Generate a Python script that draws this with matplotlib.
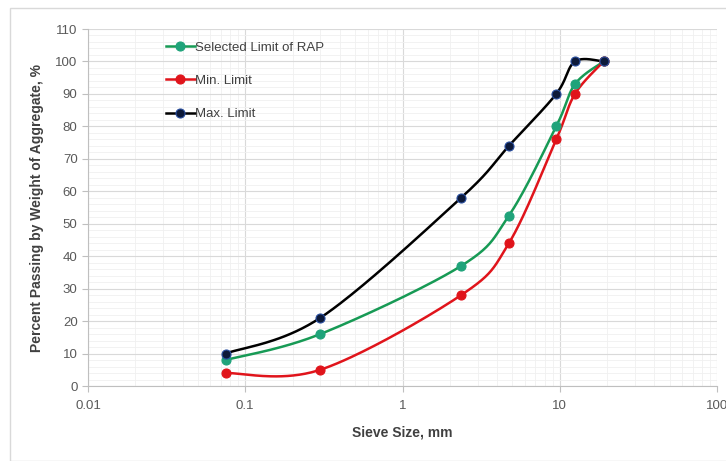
import numpy as np
import matplotlib
matplotlib.use("Agg")
import matplotlib.pyplot as plt
from matplotlib.patches import Rectangle
from matplotlib.lines import Line2D

sieve_mm = [0.075, 0.3, 2.36, 4.75, 9.5, 12.5, 19.0]
selected = [8, 16, 37, 52.5, 80, 93, 100]
min_limit = [4, 5, 28, 44, 76, 90, 100]
max_limit = [10, 21, 58, 74, 90, 100, 100]
labels = ["Selected Limit of RAP", "Min. Limit", "Max. Limit"]
x_ticks = [0.01, 0.1, 1, 10, 100]
x_tick_labels = ["0.01", "0.1", "1", "10", "100"]
y_ticks = list(range(0, 111, 10))

plt.rcParams['font.family'] = ['Liberation Sans Narrow', 'Liberation Sans', 'DejaVu Sans']


def smooth(xs, ys, n=40):
    """Excel-like smoothed line: Catmull-Rom in (log10 x, y)."""
    u = np.log10(np.asarray(xs, float))
    v = np.asarray(ys, float)
    P = np.column_stack([u, v])
    P = np.vstack([P[0], P, P[-1]])
    out = []
    t = np.linspace(0, 1, n)
    for i in range(1, len(P) - 2):
        p0, p1, p2, p3 = P[i - 1], P[i], P[i + 1], P[i + 2]
        c1 = p1 + (p2 - p0) / 6.0
        c2 = p2 - (p3 - p1) / 6.0
        tt = t[:, None]
        seg = ((1 - tt) ** 3) * p1 + 3 * ((1 - tt) ** 2) * tt * c1 + 3 * (1 - tt) * tt ** 2 * c2 + tt ** 3 * p2
        out.append(seg if i == 1 else seg[1:])
    S = np.vstack(out)
    return 10 ** S[:, 0], S[:, 1]


fig = plt.figure(figsize=(7.26, 4.61), dpi=100)
fig.add_artist(Rectangle((10 / 726, 0.0), 1.0, 1 - 8 / 461, transform=fig.transFigure,
                         fill=False, edgecolor="#d9d9d9", linewidth=1.0))
ax = fig.add_axes([88 / 726, 1 - 386 / 461, (717 - 88) / 726, (386 - 29) / 461])

series = [
    (selected, "#179a55", "#1fa37a", "#1fa37a"),
    (min_limit, "#e0141b", "#e0141b", "#e0141b"),
    (max_limit, "#000000", "#0d1a3a", "#2a4fa0"),
]
handles = []
for (vals, lc, mfc, mec), lab in zip(series, labels):
    sx, sy = smooth(sieve_mm, vals)
    ax.plot(sx, sy, color=lc, linewidth=1.8, zorder=3)
    ax.plot(sieve_mm, vals, linestyle="none", marker="o", markersize=6.5,
            markerfacecolor=mfc, markeredgecolor=mec, markeredgewidth=0.8, zorder=4)
    handles.append(Line2D([], [], color=lc, linewidth=1.8, marker="o", markersize=6.5,
                          markerfacecolor=mfc, markeredgecolor=mec, markeredgewidth=0.8))

ax.set_xscale("log")
ax.set_xlim(0.01, 100)
ax.set_ylim(0, 110)
ax.set_xticks(x_ticks)
ax.set_xticklabels(x_tick_labels)
ax.set_yticks(y_ticks)
ax.set_yticks(np.arange(0, 111, 2), minor=True)
ax.xaxis.set_minor_locator(matplotlib.ticker.LogLocator(base=10, subs=np.arange(2, 10)))
ax.xaxis.set_minor_formatter(matplotlib.ticker.NullFormatter())

ax.grid(True, which="major", color="#d9d9d9", linewidth=0.8)
ax.grid(True, which="minor", color="#f0f0f0", linewidth=0.6)
ax.set_axisbelow(True)

for s in ["top", "right"]:
    ax.spines[s].set_visible(False)
for s in ["left", "bottom"]:
    ax.spines[s].set_color("#bfbfbf")
    ax.spines[s].set_linewidth(0.8)

ax.tick_params(axis="both", which="major", labelsize=9.5, labelcolor="#595959",
               color="#bfbfbf", length=4, width=0.8)
ax.tick_params(axis="both", which="minor", length=0)
ax.tick_params(axis="x", pad=6)

ax.set_xlabel("Sieve Size, mm", fontsize=10, fontweight="bold", color="#404040", labelpad=10)
ax.set_ylabel("Percent Passing by Weight of Aggregate, %", fontsize=10, fontweight="bold",
              color="#404040", labelpad=8)

leg = ax.legend(handles, labels, loc="upper left", bbox_to_anchor=(0.115, 0.98),
                frameon=False, fontsize=9.5, handlelength=2.2, handletextpad=0.0,
                labelspacing=1.6, borderaxespad=0)
for t in leg.get_texts():
    t.set_color("#404040")

fig.savefig("out.png", dpi=100)
